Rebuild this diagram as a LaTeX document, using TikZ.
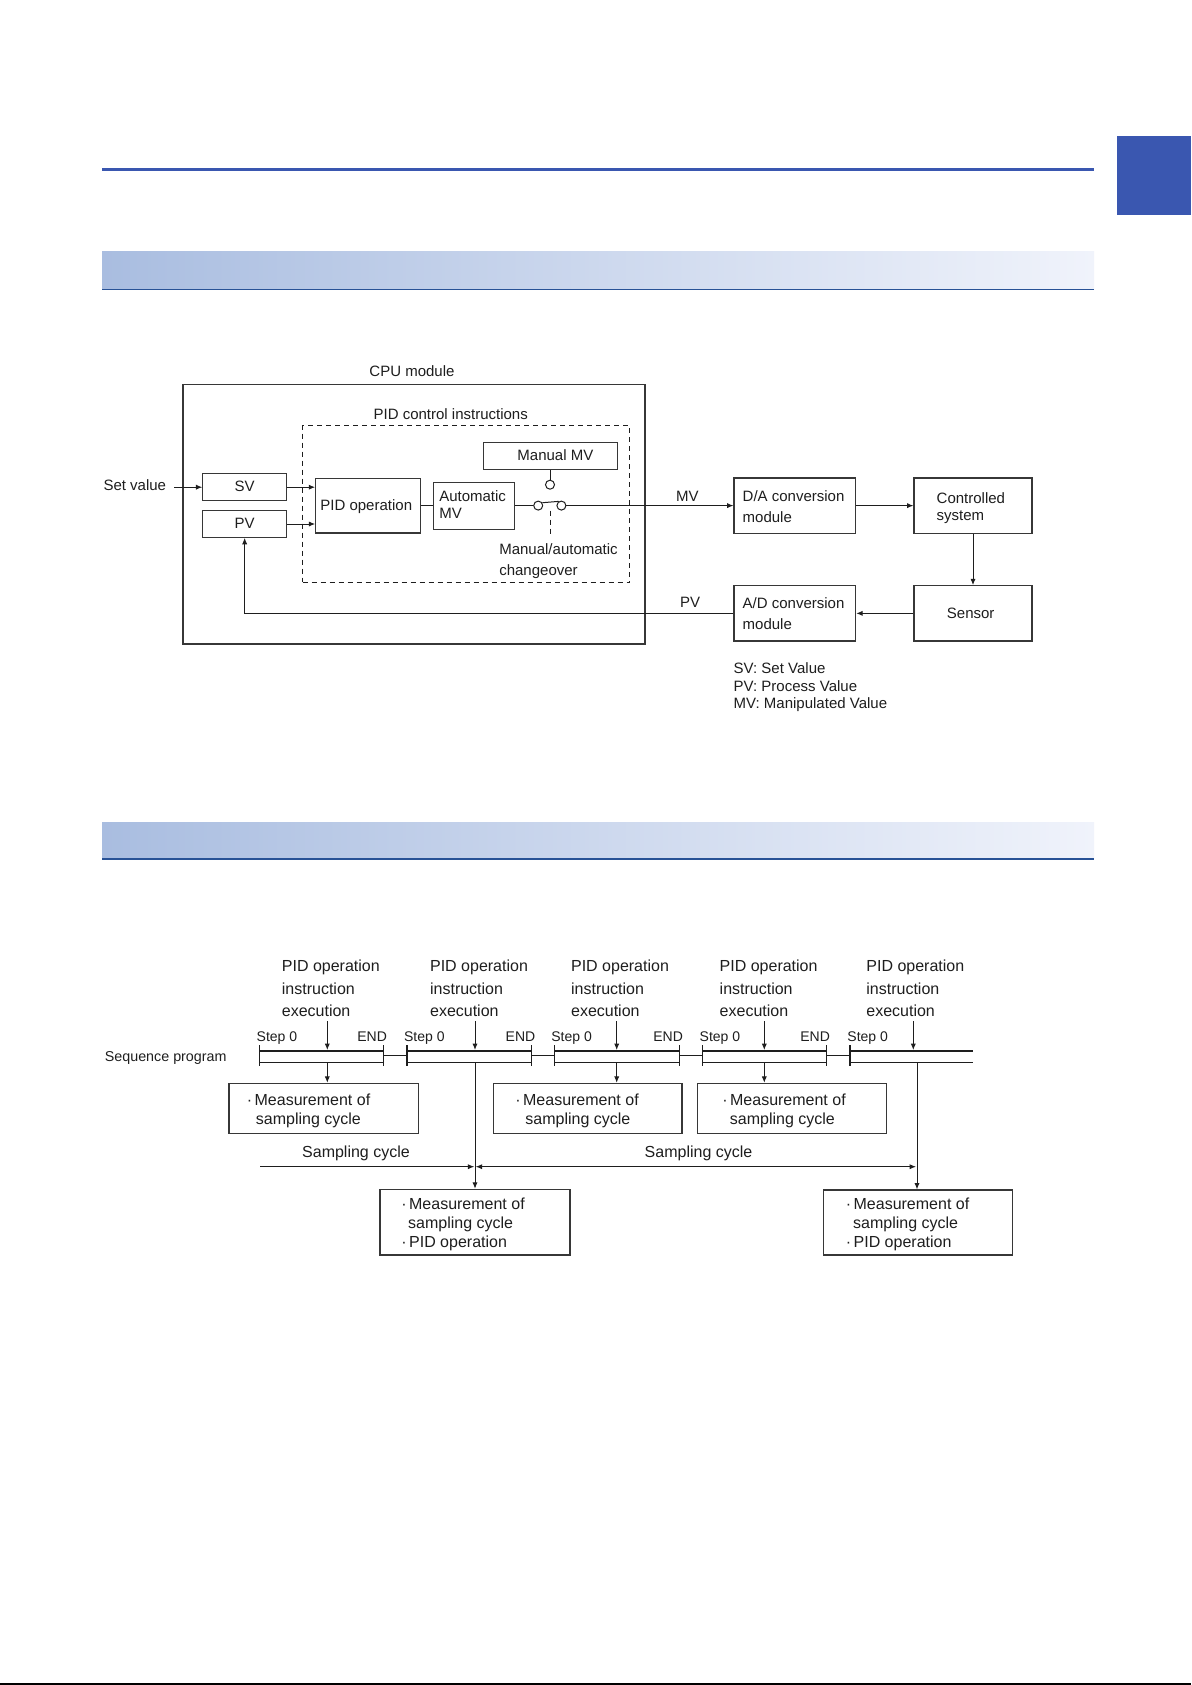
\documentclass[tikz,border=0pt]{standalone}
\usepackage{fontspec}
\setmainfont{Liberation Sans}
\usetikzlibrary{arrows.meta,fit,calc}
\definecolor{hdrblue}{RGB}{58,87,176}
\definecolor{barL}{RGB}{169,189,224}
\definecolor{barR}{RGB}{240,243,251}
\definecolor{barline}{RGB}{40,82,150}
\definecolor{ink}{RGB}{30,30,30}
\definecolor{boxink}{RGB}{55,55,55}
\tikzset{
  box/.style={draw=boxink, line width=0.55pt, inner sep=0pt, fit={#1}},
  dbox/.style={draw=ink, line width=0.5pt, dash pattern=on 2.5pt off 2pt, inner sep=0pt, fit={#1}},
  lbl/.style={inner sep=0pt, text height=5.4pt, text depth=0pt, text=ink, font=\fontsize{7.5}{9}\selectfont},
  lbleight/.style={inner sep=0pt, text height=5.7pt, text depth=0pt, text=ink, font=\fontsize{8}{10}\selectfont},
  lblseven/.style={inner sep=0pt, text height=5pt, text depth=0pt, text=ink, font=\fontsize{7}{8.5}\selectfont},
  conn/.style={draw=ink, line width=0.5pt},
  arr/.style={conn, -{Latex[length=3.2pt,width=2.6pt]}},
  swc/.style={circle, draw=ink, line width=0.5pt, minimum size=4.5pt, inner sep=0pt},
}
\begin{document}
\begin{tikzpicture}[x=0.5pt,y=-0.5pt]
\useasboundingbox (0,0) rectangle (1191,1685);
\fill[white] (0,0) rectangle (1191,1685);
% ---------- page decoration ----------
\fill[hdrblue] (102,168) rectangle (1094,170.8);
\fill[hdrblue] (1117,136) rectangle (1191,215);
\shade[left color=barL, right color=barR] (102,252) rectangle (1094,289);
\fill[barline] (102,288.8) rectangle (1094,290.3);
\shade[left color=barL, right color=barR] (102,822.5) rectangle (1094,858.5);
\fill[barline] (102,858.3) rectangle (1094,859.8);
\fill[black] (0,1683) rectangle (1191,1685);

% ---------- diagram 1 ----------
\node[box={(183,384.3) (645,644)}] (cpu) {};
\node[lbl] (cpul) at (412,371) {CPU module};
\node[dbox={(302.5,425.7) (629.7,582.3)}] (pidc) {};
\node[lbl] (pidcl) at (450.7,414) {PID control instructions};
\node[box={(483.2,442.7) (617.5,469.3)}] (man) {};
\node[lbl] (manl) at (555.4,455.3) {Manual MV};
\node[box={(202.9,473.7) (286.4,500.7)}] (sv) {};
\node[lbl] (svl) at ($(sv.center)+(0,-1)$) {SV};
\node[box={(202.9,510.7) (286.4,537.3)}] (pv) {};
\node[lbl] (pvl) at ($(pv.center)+(0,-0.7)$) {PV};
\node[box={(315.7,478.3) (420.7,533)}] (pid) {};
\node[lbl,anchor=west] (pidl) at (320,505) {PID operation};
\node[box={(433.6,482.3) (514.6,529.3)}] (auto) {};
\node[lbl,anchor=west] (autol1) at (438.9,495.7) {Automatic};
\node[lbl,anchor=west] (autol2) at (438.9,512.7) {MV};
\node[swc] (c0) at (550,484.7) {};
\node[swc] (c1) at (538.2,505.6) {};
\node[swc] (c2) at (561.4,505.6) {};
\draw[conn] (c0.north) -- (c0.north |- man.south);
\draw[conn] (c1.west -| auto.east) -- (c1.west);
\draw[conn] (c1.35) -- (c2.122);
\coordinate (dsh1) at (550,510.5);
\coordinate (dsh2) at (550,536);
\draw[conn, dash pattern=on 2.5pt off 2pt] (dsh1) -- (dsh2);
\node[lbl,anchor=west] (chg1) at (498.9,549.3) {Manual/automatic};
\node[lbl,anchor=west] (chg2) at (498.9,570) {changeover};
\node[lbl,anchor=east] (setv) at (166.5,485) {Set value};
\coordinate (svin) at (174,487.2);
\draw[arr] (svin) -- (sv.west);
\draw[arr] (sv.east) -- (sv.east -| pid.west);
\draw[arr] (pv.east) -- (pv.east -| pid.west);
\draw[conn] (pid.east) -- (pid.east -| auto.west);
\node[box={(734,478) (855.7,533.3)}] (da) {};
\node[lbl,anchor=west] (dal1) at (742.3,495.7) {D/A conversion};
\node[lbl,anchor=west] (dal2) at (742.3,517) {module};
\draw[arr] (c2.east) -- (c2.east -| da.west);
\node[lbl] (mvl) at (687.3,496) {MV};
\node[box={(914,478) (1032,533.3)}] (ctrl) {};
\node[lbl,anchor=west] (ctrll1) at (936.3,497.7) {Controlled};
\node[lbl,anchor=west] (ctrll2) at (936.3,515) {system};
\draw[arr] (da.east) -- (ctrl.west);
\node[box={(914,585.7) (1032,641)}] (sen) {};
\node[lbl] (senl) at (970.7,613) {Sensor};
\draw[arr] (ctrl.south) -- (sen.north);
\node[box={(734,585.7) (855.7,641)}] (ad) {};
\node[lbl,anchor=west] (adl1) at (742.3,603.3) {A/D conversion};
\node[lbl,anchor=west] (adl2) at (742.3,624) {module};
\draw[arr] (sen.west) -- (ad.east);
\node[lbl] (pvfl) at (690,601.7) {PV};
\draw[arr] (ad.west) -| (pv.south);
\node[lbl,anchor=west] (lg1) at (733.3,668.5) {SV: Set Value};
\node[lbl,anchor=west] (lg2) at (733.3,685.7) {PV: Process Value};
\node[lbl,anchor=west] (lg3) at (733.3,703) {MV: Manipulated Value};

% ---------- diagram 2 ----------
\node[lblseven,anchor=west,font=\fontsize{7.15}{9}\selectfont] (seq) at (104.5,1056.7) {Sequence program};
\foreach \i/\x in {1/281.5,2/429.7,3/570.7,4/719.3,5/866}{
  \node[lbleight,anchor=west] (ga\i) at (\x,966) {PID operation};
  \node[lbleight,anchor=west] (gb\i) at (\x,988.3) {instruction};
  \node[lbleight,anchor=west] (gc\i) at (\x,1010.7) {execution};
}
\foreach \i/\l/\r/\a/\w in {1/259.3/383.3/327.3/0.5pt,2/406.7/531.7/475/1pt,3/554/679.3/616.7/0.5pt,4/702.3/826.3/764.3/0.5pt}{
  \coordinate (bl\i) at (\l,1050.5);
  \coordinate (br\i) at (\r,1050.5);
  \draw[draw=ink,line width=1pt] (bl\i) -- (br\i);
  \draw[conn] (\l,1062) -- (\r,1062);
  \draw[draw=ink,line width=\w] (\l,1045) -- (\l,1066);
  \draw[conn] (\r,1045) -- (\r,1066);
  \coordinate (ta\i) at (\a,1021);
  \draw[arr] (ta\i) -- (\a,1050);
  \node[lblseven,anchor=west] (st\i) at (\l-3,1036) {Step 0};
  \node[lblseven,anchor=east] (en\i) at (\r+4,1036) {END};
}
% fifth, open-ended bar
\coordinate (bl5) at (850,1050.5);
\coordinate (br5) at (973.3,1050.5);
\draw[draw=ink,line width=1pt] (bl5) -- (br5);
\draw[conn] (850,1062) -- (973.3,1062);
\draw[draw=ink,line width=1pt] (850,1045) -- (850,1066);
\coordinate (ta5) at (913.3,1021);
\draw[arr] (ta5) -- (913.3,1050);
\node[lblseven,anchor=west] (st5) at (847,1036) {Step 0};
% links between bars
\draw[conn] (383.3,1055) -- (406.7,1055);
\draw[conn] (531.7,1055) -- (554,1055);
\draw[conn] (679.3,1055) -- (702.3,1055);
\draw[conn] (826.3,1055) -- (850,1055);

% measurement boxes
\node[box={(229,1083.3) (418.4,1133.3)}] (m1) {};
\node[box={(493.4,1083.3) (682,1133.3)}] (m3) {};
\node[box={(697.4,1083.3) (886.2,1133.3)}] (m4) {};
\foreach \n/\bx/\tx in {m1/246.5/255.5, m3/515/525, m4/722/729.5}{
  \node[lbleight,anchor=west] (\n a) at (\bx,1100) {\textperiodcentered\hspace{1.2pt}Measurement of};
  \node[lbleight,anchor=west] (\n b) at (\tx,1118.3) {sampling cycle};
}
\coordinate (d1) at (327.3,1062);
\coordinate (d3) at (616.7,1062);
\coordinate (d4) at (764.3,1062);
\draw[arr] (d1) -- (d1 |- m1.north);
\draw[arr] (d3) -- (d3 |- m3.north);
\draw[arr] (d4) -- (d4 |- m4.north);

% PID operation boxes
\node[box={(380,1189.3) (570,1255)}] (pa) {};
\node[box={(823.3,1190) (1012.3,1255)}] (pb) {};
\foreach \n/\bx/\tx in {pa/401/407.8, pb/845.5/852.8}{
  \node[lbleight,anchor=west] (\n a) at (\bx,1204) {\textperiodcentered\hspace{1.2pt}Measurement of};
  \node[lbleight,anchor=west] (\n b) at (\tx,1222.7) {sampling cycle};
  \node[lbleight,anchor=west] (\n c) at (\bx,1241.7) {\textperiodcentered\hspace{1.2pt}PID operation};
}
\coordinate (d2) at (475,1062);
\coordinate (d5) at (917,1062);
\draw[arr] (d2) -- (d2 |- pa.north);
\draw[arr] (d5) -- (d5 |- pb.north);

% sampling cycle
\coordinate (sc0) at (260.2,1166.7);
\coordinate (sc1) at (474.3,1166.7);
\coordinate (sc2) at (475.7,1166.7);
\coordinate (sc3) at (916,1166.7);
\draw[arr] (sc0) -- (sc1);
\draw[conn, {Latex[length=3.2pt,width=2.6pt]}-{Latex[length=3.2pt,width=2.6pt]}] (sc2) -- (sc3);
\node[lbleight] (scl1) at (356,1151.7) {Sampling cycle};
\node[lbleight] (scl2) at (698.5,1151.7) {Sampling cycle};
\end{tikzpicture}
\end{document}
